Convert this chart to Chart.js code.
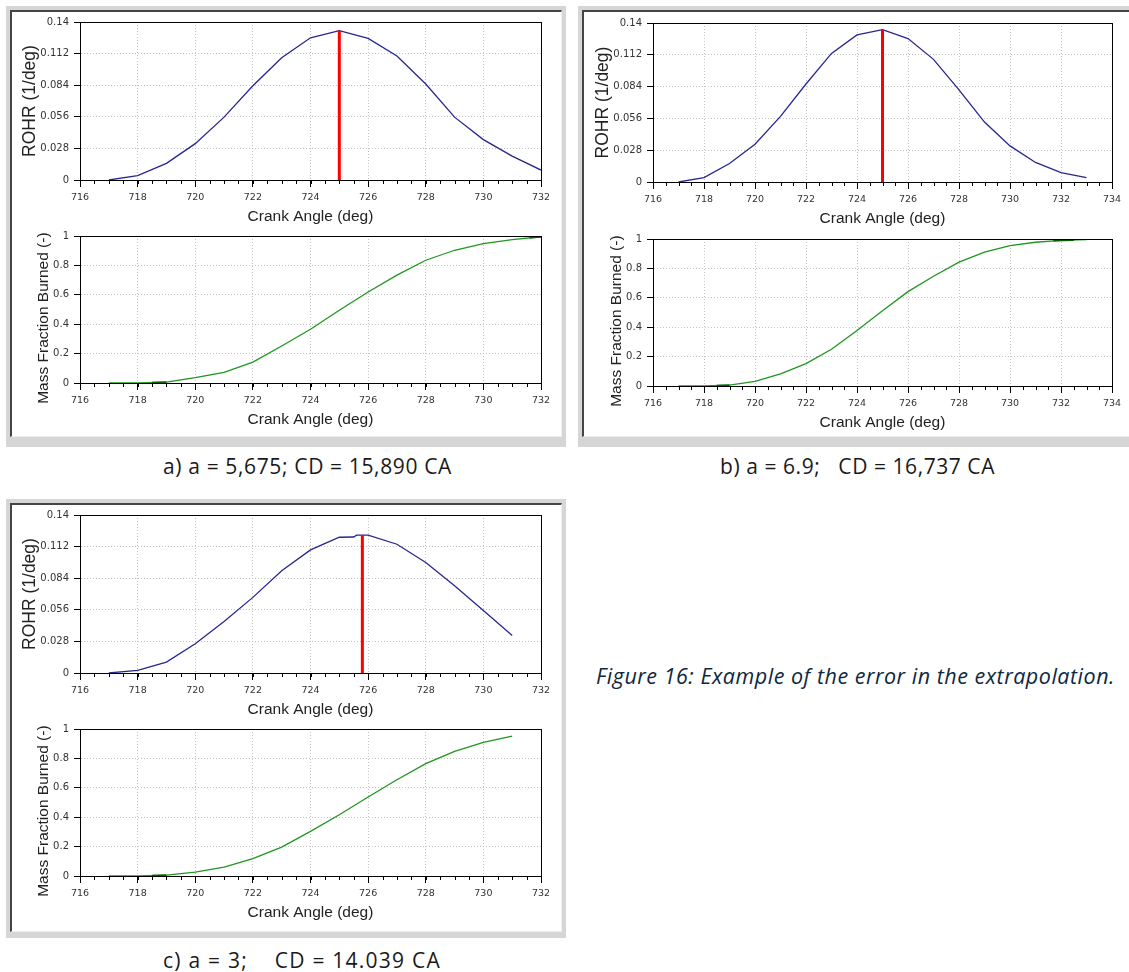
<!DOCTYPE html>
<html><head><meta charset="utf-8">
<script src="https://cdn.jsdelivr.net/npm/chart.js@4.4.0/dist/chart.umd.min.js"></script>
<style>
html,body{margin:0;padding:0;background:#fff;}
body{width:1129px;height:972px;position:relative;overflow:hidden;}
.frame{position:absolute;background:#d6d6d6;}
.inner{position:absolute;background:#fff;box-sizing:border-box;border-top:2px solid #454545;border-left:2px solid #454545;border-right:1px solid #eeeeee;border-bottom:1px solid #eeeeee;}
canvas{position:absolute;}
.cap{position:absolute;font-family:'Open Sans',sans-serif;font-size:21px;line-height:26px;color:#1a1a1a;white-space:pre;}
.fig{position:absolute;font-family:'Open Sans',sans-serif;font-style:italic;font-size:21.5px;line-height:26px;color:#0e2841;white-space:pre;}
</style></head><body>
<div class="frame" style="left:6px;top:6px;width:560px;height:441px;"><div class="inner" style="left:4px;top:4px;width:552px;height:427px;"></div></div>
<div class="frame" style="left:578px;top:6px;width:560px;height:441px;"><div class="inner" style="left:4px;top:4px;width:552px;height:427px;"></div></div>
<div class="frame" style="left:6px;top:499px;width:560px;height:439px;"><div class="inner" style="left:4px;top:4px;width:552px;height:429px;"></div></div>

<canvas id="aTop"></canvas><canvas id="aBot"></canvas>
<canvas id="bTop"></canvas><canvas id="bBot"></canvas>
<canvas id="cTop"></canvas><canvas id="cBot"></canvas>

<div class="cap" id="capA" data-w="289" style="left:163px;top:453px;">a) a = 5,675; CD = 15,890 CA</div>
<div class="cap" id="capB" data-w="275" style="left:720px;top:453px;">b) a = 6.9;   CD = 16,737 CA</div>
<div class="cap" id="capC" data-w="278" style="left:163px;top:947px;">c) a = 3;    CD = 14.039 CA</div>
<div class="fig" id="figCap" data-w="519" style="left:596px;top:663px;">Figure 16: Example of the error in the extrapolation.</div>

<script>
// ---------- tick labels ----------
const angleTicksAC = [716, 718, 720, 722, 724, 726, 728, 730, 732];
const angleTicksB  = [716, 718, 720, 722, 724, 726, 728, 730, 732, 734];
const rohrTicks = [0, 0.028, 0.056, 0.084, 0.112, 0.14];
const rohrTickLabels = ['0', '0.028', '0.056', '0.084', '0.112', '0.14'];
const mfbTicks = [0, 0.2, 0.4, 0.6, 0.8, 1];
const mfbTickLabels = ['0', '0.2', '0.4', '0.6', '0.8', '1'];

// ---------- a) a = 5,675 ----------
const anglesA = [717, 718, 719, 720, 721, 722, 723, 724, 725, 726, 727, 728, 729, 730, 731, 732];
const rohrA   = [0, 0.0038, 0.0147, 0.0322, 0.0557, 0.0835, 0.1084, 0.1260, 0.1324, 0.1254, 0.1099, 0.0850, 0.0557, 0.0358, 0.0211, 0.0088];
const mfbA    = [0, 0, 0.006, 0.036, 0.072, 0.142, 0.252, 0.366, 0.495, 0.619, 0.734, 0.835, 0.903, 0.948, 0.975, 0.995];
const markerA = [725, 0.1324];

// ---------- b) a = 6.9 ----------
const anglesB = [717, 718, 719, 720, 721, 722, 723, 724, 725, 726, 727, 728, 729, 730, 731, 732, 733];
const rohrB   = [0, 0.0038, 0.0163, 0.0333, 0.0578, 0.0863, 0.1132, 0.1295, 0.1342, 0.1263, 0.1080, 0.0811, 0.0528, 0.0318, 0.0172, 0.0082, 0.0038];
const mfbB    = [0, 0, 0.006, 0.031, 0.082, 0.152, 0.250, 0.378, 0.512, 0.642, 0.747, 0.843, 0.910, 0.955, 0.978, 0.990, 0.996];
const markerB = [725, 0.1342];

// ---------- c) a = 3 ----------
const anglesCRohr = [717, 718, 719, 720, 721, 722, 723, 724, 725, 725.5, 725.6, 726, 727, 728, 729, 730, 731];
const rohrC       = [0, 0.0024, 0.0097, 0.0259, 0.0456, 0.0670, 0.0906, 0.1091, 0.1203, 0.1205, 0.1221, 0.1221, 0.1141, 0.0979, 0.0774, 0.0553, 0.0332];
const anglesCMfb  = [717, 718, 719, 720, 721, 722, 723, 724, 725, 726, 727, 728, 729, 730, 731];
const mfbC        = [0, 0, 0.006, 0.027, 0.061, 0.118, 0.197, 0.304, 0.417, 0.537, 0.655, 0.764, 0.848, 0.909, 0.952];
const markerC = [725.8, 0.1221];

// dark overlay segments on the MFB traces
const mfbDarkStartX = [718.5, 719];
const mfbDarkStartY = [0.001, 0.005];
const mfbDarkEndAX = [731.6, 732];
const mfbDarkEndAY = [0.990, 0.995];
const mfbDarkEndBX = [731.7, 732.5];
const mfbDarkEndBY = [0.990, 0.994];

// ---------- captions: small letter-spacing correction to the reference widths ----------
document.querySelectorAll('.cap, .fig').forEach(el => {
  const target = +el.dataset.w;
  const w = el.getBoundingClientRect().width;
  const n = el.textContent.length;
  el.style.letterSpacing = ((target - w) / n) + 'px';
});

// ---------- helpers ----------
Chart.defaults.font.family = "'DejaVu Sans', sans-serif";
Chart.defaults.color = '#333';

const pts = (xs, ys) => xs.map((x, i) => ({x: x, y: ys[i]}));

const boxAndMinor = {
  id: 'boxAndMinor',
  afterDraw(chart) {
    const {ctx, chartArea: a, scales: {x}} = chart;
    ctx.save();
    ctx.strokeStyle = '#000';
    ctx.lineWidth = 1;
    ctx.strokeRect(Math.round(a.left) + 0.5, Math.round(a.top) + 0.5, Math.round(a.right - a.left), Math.round(a.bottom - a.top));
    ctx.beginPath();
    for (let v = x.min; v <= x.max + 1e-9; v += 0.5) {
      const px = Math.round(x.getPixelForValue(v)) + 0.5;
      ctx.moveTo(px, a.bottom);
      ctx.lineTo(px, a.bottom + 4);
    }
    ctx.stroke();
    ctx.restore();
  }
};

function makeChart(id, plot, xTicks, yTicks, yLabels, yTitle, yTitleFont, yTitlePad, datasets) {
  const [L, T, R, B] = plot;
  const cv = document.getElementById(id);
  const padTop = 10, padRight = 22, yW = 68, xH = 46;
  cv.width = R - L + yW + padRight;
  cv.height = B - T + padTop + xH;
  cv.style.left = (L - yW) + 'px';
  cv.style.top = (T - padTop) + 'px';
  new Chart(cv, {
    type: 'line',
    data: {datasets: datasets},
    options: {
      responsive: false,
      animation: false,
      devicePixelRatio: 1,
      layout: {padding: {left: 0, top: padTop, right: padRight, bottom: 0}},
      plugins: {legend: {display: false}, tooltip: {enabled: false}},
      elements: {point: {radius: 0}, line: {tension: 0}},
      scales: {
        x: {
          type: 'linear',
          min: xTicks[0], max: xTicks[xTicks.length - 1],
          afterBuildTicks: s => { s.ticks = xTicks.map(v => ({value: v})); },
          afterFit: s => { s.height = xH; },
          ticks: {font: {size: 9.5}, color: '#333', padding: 5, maxRotation: 0, autoSkip: false,
                  callback: v => String(v)},
          grid: {color: '#c2c2c2', tickColor: '#000', tickLength: 7, lineWidth: 1},
          border: {display: true, color: '#000', dash: [1, 2]},
          title: {display: true, text: 'Crank Angle (deg)', color: '#222',
                  font: {family: "'Liberation Sans', Arial, sans-serif", size: 15.5}, padding: {top: 0, bottom: 0}}
        },
        y: {
          type: 'linear',
          min: yTicks[0], max: yTicks[yTicks.length - 1],
          afterBuildTicks: s => { s.ticks = yTicks.map(v => ({value: v})); },
          afterFit: s => { s.width = yW; },
          ticks: {font: {size: 10}, color: '#333', padding: 5, autoSkip: false,
                  callback: (v, i) => yLabels[i]},
          grid: {color: '#c2c2c2', tickColor: '#000', tickLength: 6, lineWidth: 1},
          border: {display: true, color: '#000', dash: [1, 2]},
          title: {display: true, text: yTitle, color: '#222',
                  font: {family: "'Liberation Sans', Arial, sans-serif", size: yTitleFont}, padding: {top: yTitlePad, bottom: 0}}
        }
      }
    },
    plugins: [boxAndMinor]
  });
}

const rohrStyle = {borderColor: '#262690', borderWidth: 1.3, fill: false};
const mfbStyle = {borderColor: '#1f961f', borderWidth: 1.3, fill: false};
const darkGreen = {borderColor: '#0a5a0a', borderWidth: 2.2, fill: false};
const redStyle = {borderColor: '#ff0000', borderWidth: 3, fill: false};

function rohrSets(xs, ys, marker) {
  return [
    Object.assign({data: pts(xs, ys), order: 2}, rohrStyle),
    Object.assign({data: [{x: marker[0], y: 0}, {x: marker[0], y: marker[1]}], order: 1}, redStyle)
  ];
}
function mfbSets(xs, ys, endX, endY) {
  const s = [
    Object.assign({data: pts(xs, ys), order: 3}, mfbStyle),
    Object.assign({data: pts(mfbDarkStartX, mfbDarkStartY), order: 1}, darkGreen)
  ];
  if (endX) s.push(Object.assign({data: pts(endX, endY), order: 1}, darkGreen));
  return s;
}

// trailing spaces shift the rotated title downwards, as in the reference
const rohrTitle = 'ROHR (1/deg)';
const mfbTitle = 'Mass Fraction Burned (-)    ';

makeChart('aTop', [80, 21, 541, 180], angleTicksAC, rohrTicks, rohrTickLabels, rohrTitle, 17.5, 8, rohrSets(anglesA, rohrA, markerA));
makeChart('aBot', [80, 235, 541, 383], angleTicksAC, mfbTicks, mfbTickLabels, mfbTitle, 15.5, 22, mfbSets(anglesA, mfbA, mfbDarkEndAX, mfbDarkEndAY));
makeChart('bTop', [653, 22, 1112, 182], angleTicksB, rohrTicks, rohrTickLabels, rohrTitle, 17.5, 8, rohrSets(anglesB, rohrB, markerB));
makeChart('bBot', [653, 238, 1112, 386], angleTicksB, mfbTicks, mfbTickLabels, mfbTitle, 15.5, 22, mfbSets(anglesB, mfbB, mfbDarkEndBX, mfbDarkEndBY));
makeChart('cTop', [80, 514, 541, 673], angleTicksAC, rohrTicks, rohrTickLabels, rohrTitle, 17.5, 8, rohrSets(anglesCRohr, rohrC, markerC));
makeChart('cBot', [80, 728, 541, 876], angleTicksAC, mfbTicks, mfbTickLabels, mfbTitle, 15.5, 22, mfbSets(anglesCMfb, mfbC, null, null));
</script>
</body></html>
